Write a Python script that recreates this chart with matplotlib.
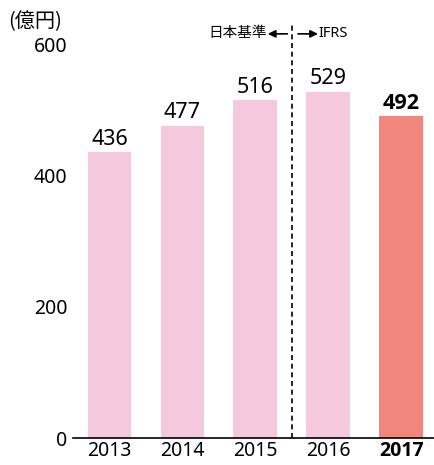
import matplotlib
matplotlib.use("Agg")
import matplotlib.pyplot as plt

plt.rcParams['font.family'] = ['Noto Sans', 'Noto Sans CJK JP', 'DejaVu Sans']
BOLD_FAMILY = ['Open Sans', 'Noto Sans CJK JP', 'DejaVu Sans']

years = ["2013", "2014", "2015", "2016", "2017"]
values = [436, 477, 516, 529, 492]
colors = ["#F6C8DD", "#F6C8DD", "#F6C8DD", "#F6C8DD", "#F0867C"]
yticks = [0, 200, 400, 600]
unit_label = "(億円)"
left_label = "日本基準"
right_label = "IFRS"

fig = plt.figure(figsize=(4.34, 4.65), dpi=100)
ax = fig.add_axes([73/434, 27/465, 1 - 73/434, (438-45)/465])

x = list(range(len(years)))
ax.bar(x, values, width=0.6, color=colors, zorder=2)
ax.set_xlim(-0.5, 4.45)
ax.set_ylim(0, 600)

for i, v in enumerate(values):
    last = i == len(values) - 1
    ax.annotate(str(v), (i, v), xytext=(0, 1.5), textcoords="offset points",
                ha="center", va="bottom", fontsize=15.5,
                family=BOLD_FAMILY if last else None,
                fontweight="bold" if last else "normal")

ax.set_xticks(x)
ax.set_xticklabels(years, fontsize=14)
for i, lbl in enumerate(ax.get_xticklabels()):
    if i == len(years) - 1:
        lbl.set_family(BOLD_FAMILY)
        lbl.set_fontweight("bold")
ax.set_yticks(yticks)
ax.set_yticklabels([str(t) for t in yticks], fontsize=14)
ax.tick_params(axis="both", length=0, pad=4)
ax.tick_params(axis="x", pad=2)

for s in ["top", "right", "left"]:
    ax.spines[s].set_visible(False)
ax.spines["bottom"].set_linewidth(1.2)

# dashed separator
ax.plot([2.5, 2.5], [0, 630], linestyle=(0, (3, 2.2)), color="black",
        linewidth=1.2, clip_on=False, zorder=3)

yl = 617
ax.annotate("", xy=(2.17, yl), xytext=(2.44, yl), annotation_clip=False,
            arrowprops=dict(arrowstyle="-|>,head_length=0.45,head_width=0.22", color="black", lw=1.2, shrinkA=0, shrinkB=0))
ax.annotate("", xy=(2.86, yl), xytext=(2.585, yl), annotation_clip=False,
            arrowprops=dict(arrowstyle="-|>,head_length=0.45,head_width=0.22", color="black", lw=1.2, shrinkA=0, shrinkB=0))
ax.text(2.16, yl, left_label, ha="right", va="center", fontsize=10.5, clip_on=False)
ax.text(2.87, yl, right_label, ha="left", va="center", fontsize=10.5, clip_on=False)

fig.text(8/434, 1 - 22/465, unit_label, ha="left", va="center", fontsize=14.5,
         family=['Noto Sans CJK JP', 'DejaVu Sans'])

fig.savefig("out.png", dpi=100)
